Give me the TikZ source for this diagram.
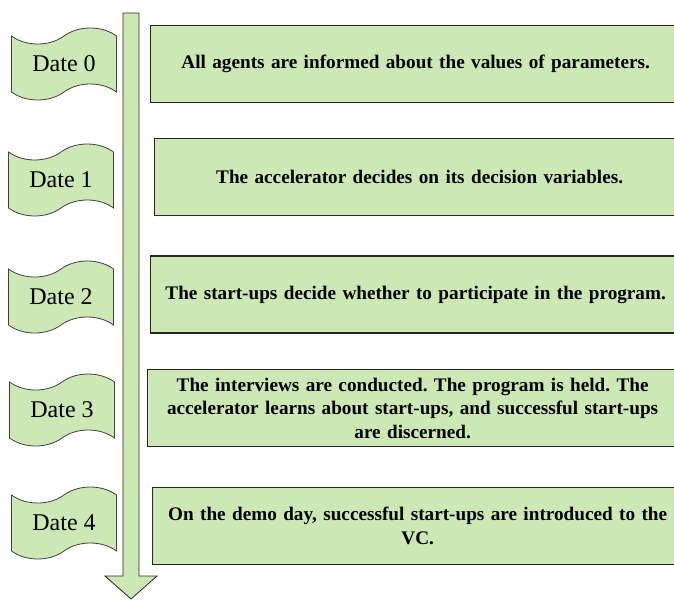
\documentclass[tikz,border=0pt]{standalone}
\usepackage{fontspec}
\setmainfont{Liberation Serif}
\usetikzlibrary{positioning,shapes.symbols}
\definecolor{stagegreen}{RGB}{204,232,181}
\frenchspacing

\begin{document}
\begin{tikzpicture}[x=1pt, y=-1pt,
datetape/.style={tape, draw=black!75, fill=stagegreen, line width=0.8pt, minimum width=105pt, minimum height=72pt, tape bend height=16pt, font=\fontsize{24}{28}\selectfont},
eventbox/.style={rectangle, draw=black!85, fill=stagegreen, line width=1.3pt, minimum width=530pt, minimum height=77pt, inner sep=1pt, text width=526pt, align=center, anchor=west, font=\bfseries\fontsize{19.2}{23.5}\selectfont},
]
\useasboundingbox (0,0) rectangle (674,600);
\clip (0,0) rectangle (674,600);

%Timeline
\coordinate (start) at (131,13);
\coordinate (tip) at (131,599);
\draw[black!85, fill=stagegreen, line width=0.8pt] (start) ++(-8,0) -- ++(16,0) -- (139,576) -- (157,576) -- (tip) -- (105,576) -- (123,576) -- cycle;

%Nodes
\node[datetape]      (date0)      at (64,64)       {Date 0};
\node[datetape]      (date1)      at (61,180)      {Date 1};
\node[datetape]      (date2)      at (61,297)      {Date 2};
\node[datetape]      (date3)      at (62,410)      {Date 3};
\node[datetape]      (date4)      at (64,523)      {Date 4};
\node[eventbox]      (event0)     at (150,64)      {All agents are informed about the values of parameters.};
\node[eventbox]      (event1)     at (154,177)     {The accelerator decides on its decision variables.};
\node[eventbox]      (event2)     at (150,294.5)   {The start-ups decide whether to participate in the program.};
\node[eventbox]      (event3)     at (147,408)     {The interviews are conducted. The program is held. The\\accelerator learns about start-ups, and successful start-ups\\are discerned.};
\node[eventbox]      (event4)     at (152,526)     {On the demo day, successful start-ups are introduced to the\\VC.};
\end{tikzpicture}
\end{document}
